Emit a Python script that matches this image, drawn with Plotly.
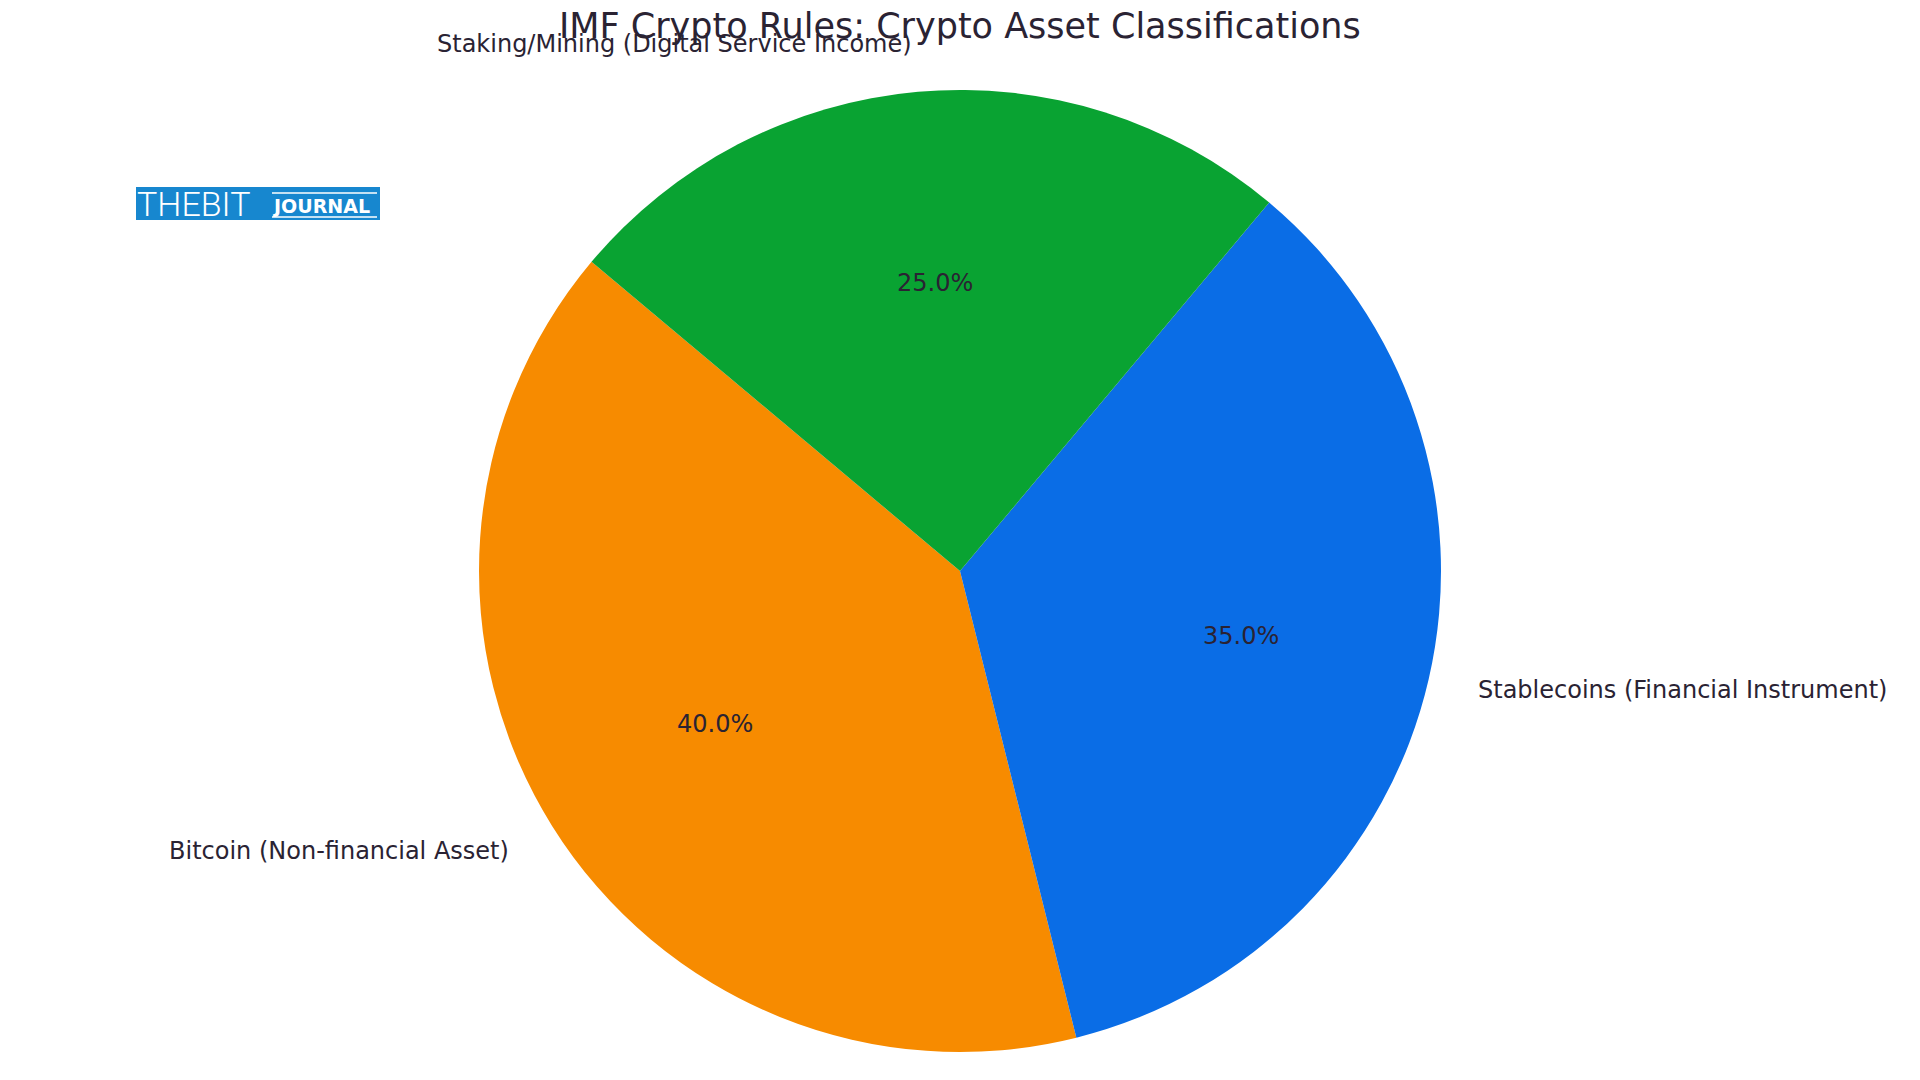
import math
import plotly.graph_objects as go

# ---- data ----
categories = ["Bitcoin (Non-financial Asset)",
              "Stablecoins (Financial Instrument)",
              "Staking/Mining (Digital Service Income)"]
shares = [40, 35, 25]
colors = ["#F78B00", "#0A6DE6", "#09A332"]
title_text = "IMF Crypto Rules: Crypto Asset Classifications"

# ---- layout constants (pixels, page coordinates) ----
W, H = 1920, 1080
PAGE_OFF = 8          # default body margin of the html page
CX, CY, R = 960, 571, 481
START_ANGLE = 140     # degrees, counter-clockwise from 3 o'clock
TEXT_COLOR = "#2A2333"
FONT = "DejaVu Sans"


def to_paper(px, py):
    return (px - PAGE_OFF) / W, 1 - (py - PAGE_OFF) / H


total = sum(shares)
first_span = 360 * shares[0] / total
# plotly (counterclockwise) ends the first slice at the rotation angle
rotation = 90 - (START_ANGLE + first_span)

dx0, dy0 = to_paper(CX - R, CY + R)
dx1, dy1 = to_paper(CX + R, CY - R)

fig = go.Figure()
fig.add_trace(go.Pie(
    labels=categories,
    values=shares,
    marker=dict(colors=colors, line=dict(width=0)),
    sort=False,
    direction="counterclockwise",
    rotation=rotation,
    textinfo="none",
    hoverinfo="label+percent",
    showlegend=False,
    domain=dict(x=[dx0, dx1], y=[dy0, dy1]),
))

annotations = []
angle = START_ANGLE
for cat, v in zip(categories, shares):
    span = 360 * v / total
    mid = math.radians(angle + span / 2)
    angle += span
    c, s = math.cos(mid), math.sin(mid)
    x, y = to_paper(CX + 0.6 * R * c, CY - 0.6 * R * s)
    annotations.append(dict(x=x, y=y, xref="paper", yref="paper",
                            text=f"{100 * v / total:.1f}%", showarrow=False,
                            xanchor="center", yanchor="middle",
                            font=dict(family=FONT, size=24, color=TEXT_COLOR)))
    x, y = to_paper(CX + 1.1 * R * c, CY - 1.1 * R * s)
    annotations.append(dict(x=x, y=y, xref="paper", yref="paper",
                            text=cat, showarrow=False,
                            xanchor="left" if c > 0 else "right",
                            yanchor="middle",
                            font=dict(family=FONT, size=24, color=TEXT_COLOR)))

# title
tx, ty = to_paper(960, 26)
annotations.append(dict(x=tx, y=ty, xref="paper", yref="paper",
                        text=title_text, showarrow=False,
                        xanchor="center", yanchor="middle",
                        font=dict(family=FONT, size=35, color=TEXT_COLOR)))

# logo
lx, ly = to_paper(135, 204)
annotations.append(dict(x=lx, y=ly, xref="paper", yref="paper",
                        text="THEBIT", showarrow=False, xanchor="left", yanchor="middle",
                        font=dict(family="Roboto", size=34, color="white", weight=300)))
jx, jy = to_paper(270, 206)
annotations.append(dict(x=jx, y=jy, xref="paper", yref="paper",
                        text="<b>JOURNAL</b>", showarrow=False, xanchor="left", yanchor="middle",
                        font=dict(family="DejaVu Sans", size=19, color="white")))

bx0, by0 = to_paper(136, 220)
bx1, by1 = to_paper(380, 187)
l0x, l0y = to_paper(272, 193)
l1x, l1y = to_paper(377, 217)
shapes = [
    dict(type="rect", xref="paper", yref="paper",
         x0=bx0, x1=bx1, y0=by0, y1=by1,
         fillcolor="#1787CF", line=dict(width=0), layer="below"),
    dict(type="line", xref="paper", yref="paper",
         x0=l0x, x1=l1x, y0=l0y, y1=l0y,
         line=dict(color="white", width=1.5)),
    dict(type="line", xref="paper", yref="paper",
         x0=l0x, x1=l1x, y0=l1y, y1=l1y,
         line=dict(color="white", width=1.5)),
]

fig.update_layout(
    width=W, height=H,
    margin=dict(l=0, r=0, t=0, b=0),
    paper_bgcolor="white", plot_bgcolor="white",
    annotations=annotations, shapes=shapes,
)

fig.write_html("out.html")
